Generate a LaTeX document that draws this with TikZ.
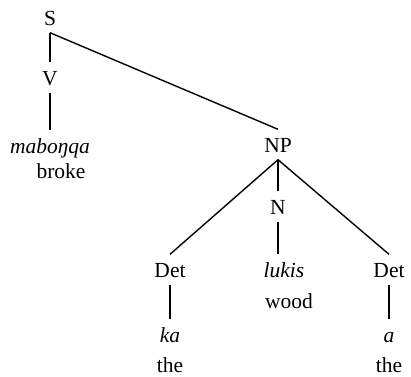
\documentclass[tikz,border=0pt]{standalone}
\usepackage{fontspec}
\setmainfont{Liberation Serif}

\begin{document}
\begin{tikzpicture}[x=1pt, y=-1pt, line width=1.4pt,
    cat/.style={anchor=base, inner xsep=0pt, inner ysep=7pt, text height=15pt, text depth=0pt, font=\fontsize{21.5}{25}\selectfont},
    word/.style={cat, font=\fontsize{21.5}{25}\selectfont\itshape},
    gloss/.style={cat}]
    \useasboundingbox (0,0) rectangle (411,376);

    % Clause and verb
    \node[cat] (S) at (50, 25) {S};
    \node[cat] (V) at (50, 85) {V};
    \node[word] (verb) at (50, 153) {maboŋqa};
    \node[gloss] (broke) at (61, 178) {broke};
    \draw (S.south) -- (V.north);
    \draw (V.south) -- (verb.north);

    % Noun phrase
    \node[cat] (NP) at (278, 152) {NP};
    \draw (S.south) -- (NP.north);
    \node[cat] (detA) at (170, 277) {Det};
    \node[cat] (N) at (278, 214) {N};
    \node[cat] (detB) at (389, 277) {Det};
    \draw (NP.south) -- (detA.north);
    \draw (NP.south) -- (N.north);
    \draw (NP.south) -- (detB.north);

    % Words and glosses
    \node[word] (ka) at (170, 342) {ka};
    \node[gloss] (theA) at (170, 372) {the};
    \node[word] (lukis) at (284, 277) {lukis};
    \node[gloss] (wood) at (289, 308) {wood};
    \node[word] (a) at (389, 342) {a};
    \node[gloss] (theB) at (389, 372) {the};
    \draw (detA.south) -- (ka.north);
    \draw (N.south) -- (N.south |- lukis.north);
    \draw (detB.south) -- (a.north);
\end{tikzpicture}
\end{document}
